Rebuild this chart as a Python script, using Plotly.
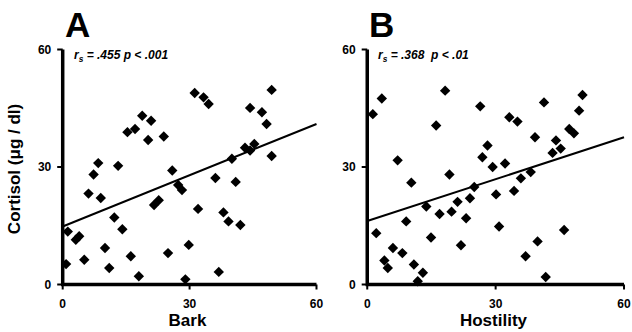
import plotly.graph_objects as go

# Panel A: bark score vs cortisol
bark = [0.8, 1.2, 3.1, 3.9, 5.1, 6.1, 7.3, 8.4, 9.0, 10.0, 11.0, 12.2, 13.1, 14.1,
        16.1, 15.3, 17.1, 18.0, 18.8, 20.9, 20.2, 21.6, 22.7, 23.9, 24.9, 25.9,
        27.3, 28.2, 29.0, 29.8, 31.2, 33.3, 34.5, 32.0, 36.1, 36.9, 38.0, 39.2,
        40.0, 40.9, 42.0, 43.1, 44.3, 45.3, 44.3, 47.1, 48.2, 49.4, 49.4]
cortisol_a = [5.2, 13.5, 11.4, 12.3, 6.3, 23.2, 28.1, 31.0, 22.1, 9.3, 4.2, 17.1, 30.3, 14.1,
              7.2, 38.9, 39.7, 2.1, 43.1, 41.8, 36.9, 20.3, 21.5, 37.8, 8.0, 29.1,
              25.4, 24.1, 1.3, 10.1, 48.9, 47.8, 46.1, 19.3, 27.2, 3.2, 18.4, 16.1,
              32.1, 26.2, 15.2, 34.9, 34.2, 35.9, 45.1, 44.0, 41.0, 49.7, 32.8]
fit_a_x = [0, 60]
fit_a_y = [14.8, 41.0]

# Panel B: hostility score vs cortisol
hostility = [1.3, 2.1, 3.4, 4.0, 4.8, 6.0, 7.1, 8.2, 9.1, 10.3, 10.9, 11.8, 13.0, 13.8,
             14.9, 16.1, 16.9, 18.2, 19.2, 19.7, 21.1, 21.9, 23.1, 24.0, 25.0, 26.4,
             26.9, 28.1, 29.3, 30.1, 30.8, 32.2, 33.2, 35.1, 34.3, 35.9, 37.0, 38.2,
             39.2, 39.8, 41.3, 41.7, 43.3, 44.1, 45.2, 46.0, 47.2, 48.3, 49.5, 50.3]
cortisol_b = [43.5, 13.1, 47.5, 6.1, 4.2, 9.3, 31.7, 8.0, 16.1, 26.0, 5.1, 0.8, 3.0, 19.9,
              12.0, 40.6, 18.0, 49.5, 28.1, 18.6, 21.1, 10.0, 16.9, 22.0, 24.9, 45.5,
              32.5, 35.5, 30.0, 23.0, 14.8, 30.9, 42.7, 41.6, 23.9, 27.1, 7.2, 28.7,
              37.6, 11.0, 46.5, 1.9, 33.6, 36.8, 34.7, 13.9, 39.7, 38.6, 44.4, 48.4]
fit_b_x = [0, 60]
fit_b_y = [16.2, 37.6]

ticks = [0, 30, 60]
AX_MIN, AX_MAX = 0, 60
PAD_LO, PAD_HI = -2.0, 61.0   # axis range padding so the spines sit inside the plot area
TICK_LEN = 1.3                # tick length in data units
FONT = "Liberation Sans, Arial, Helvetica, sans-serif"

W, H = 632, 332


def x_domain(px0, px60):
    """Domain (paper fraction) so that data 0 and 60 land on pixels px0, px60."""
    scale = (px60 - px0) / (AX_MAX - AX_MIN)
    return [(px0 + (PAD_LO - AX_MIN) * scale) / W, (px60 + (PAD_HI - AX_MAX) * scale) / W]


def y_domain(py0, py60):
    scale = (py0 - py60) / (AX_MAX - AX_MIN)
    return [1 - (py0 - (PAD_LO - AX_MIN) * scale) / H, 1 - (py60 - (PAD_HI - AX_MAX) * scale) / H]


def px_x(p):
    return p / W


def px_y(p):
    return 1 - p / H


fig = go.Figure()

marker = dict(symbol="diamond", size=8, color="black", line=dict(width=0))
for xs, ys, fx, fy, xa, ya in [
    (bark, cortisol_a, fit_a_x, fit_a_y, "x", "y"),
    (hostility, cortisol_b, fit_b_x, fit_b_y, "x2", "y2"),
]:
    # L-shaped axis frame: left spine down to the origin, then bottom spine
    fig.add_trace(go.Scatter(x=[AX_MIN, AX_MIN, AX_MAX], y=[AX_MAX, AX_MIN, AX_MIN],
                             mode="lines", line=dict(color="black", width=3.5),
                             xaxis=xa, yaxis=ya, showlegend=False, hoverinfo="skip"))
    # short outward ticks on both spines
    tx, ty = [], []
    for t in ticks:
        tx += [AX_MIN - TICK_LEN, AX_MIN, None, t, t, None]
        ty += [t, t, None, AX_MIN, AX_MIN - TICK_LEN, None]
    fig.add_trace(go.Scatter(x=tx, y=ty, mode="lines", line=dict(color="black", width=2),
                             xaxis=xa, yaxis=ya, showlegend=False, hoverinfo="skip"))
    fig.add_trace(go.Scatter(x=xs, y=ys, mode="markers", marker=marker,
                             xaxis=xa, yaxis=ya, cliponaxis=False, showlegend=False))
    fig.add_trace(go.Scatter(x=fx, y=fy, mode="lines", line=dict(color="black", width=2),
                             xaxis=xa, yaxis=ya, showlegend=False))

fig.update_layout(
    width=W, height=H,
    margin=dict(l=0, r=0, t=0, b=0),
    paper_bgcolor="white", plot_bgcolor="white",
    xaxis=dict(domain=x_domain(63, 318), anchor="y",
               title=dict(text="<b>Bark</b>", standoff=0)),
    yaxis=dict(domain=y_domain(284, 47), anchor="x",
               title=dict(text="<b>Cortisol (μg / dl)</b>", standoff=12)),
    xaxis2=dict(domain=x_domain(369, 627), anchor="y2",
                title=dict(text="<b>Hostility</b>", standoff=0)),
    yaxis2=dict(domain=y_domain(284, 47), anchor="x2"),
)

axis_style = dict(
    range=[PAD_LO, PAD_HI], tickvals=ticks, ticktext=[f"<b>{t}</b>" for t in ticks],
    showgrid=False, zeroline=False, showline=False,
    ticks="", tickfont=dict(family=FONT, size=12, color="#000000"),
    title_font=dict(family=FONT, size=17, color="#000000"),
)
fig.update_xaxes(**axis_style, ticklabelstandoff=3)
fig.update_yaxes(**axis_style, ticklabelstandoff=2)

# Panel letters
for letter, xp in [("A", 63), ("B", 369)]:
    fig.add_annotation(text=f"<b>{letter}</b>", x=px_x(xp), y=px_y(22),
                       xref="paper", yref="paper", xanchor="left", yanchor="middle",
                       showarrow=False, font=dict(family=FONT, size=35, color="#000000"))

# Spearman correlation labels
for txt, xp in [("r<sub>s</sub> = .455 p &lt; .001", 72),
                ("r<sub>s</sub> = .368  p &lt; .01", 378)]:
    fig.add_annotation(text=f"<b><i>{txt}</i></b>", x=px_x(xp), y=px_y(53),
                       xref="paper", yref="paper", xanchor="left", yanchor="middle",
                       showarrow=False, font=dict(family=FONT, size=12, color="#000000"))

fig.write_html("out.html")
